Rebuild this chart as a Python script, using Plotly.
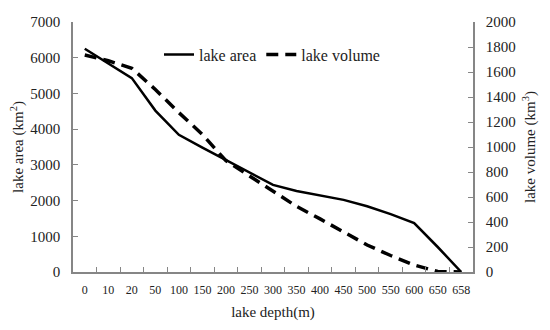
import plotly.graph_objects as go

depth_labels = ["0", "10", "20", "50", "100", "150", "200", "250", "300", "350",
                "400", "450", "500", "550", "600", "650", "658"]
lake_area = [6250, 5850, 5430, 4520, 3840, 3480, 3140, 2780, 2440, 2270,
             2150, 2020, 1840, 1620, 1370, 700, 0]
lake_volume = [1736, 1690, 1630, 1460, 1275, 1100, 890, 770, 650, 525,
               425, 320, 216, 132, 56, 4, 0]

FONT = "Liberation Serif"
AXC = "#868686"

fig = go.Figure()
fig.add_trace(go.Scatter(x=depth_labels, y=lake_area, name="lake area", mode="lines",
                         line=dict(color="black", width=2.5)))
fig.add_trace(go.Scatter(x=depth_labels, y=lake_volume, name="lake volume", mode="lines",
                         yaxis="y2", line=dict(color="black", width=3.5, dash="12px,7px")))

fig.update_layout(
    width=542, height=322,
    margin=dict(l=65, r=77, t=14, b=58, autoexpand=False),
    plot_bgcolor="white", paper_bgcolor="white",
    font=dict(family=FONT, size=15, color="#222"),
    showlegend=True,
    legend=dict(orientation="h", x=0.215, y=0.87, xanchor="left", yanchor="middle",
                bgcolor="rgba(0,0,0,0)", font=dict(size=16, family=FONT),
                itemwidth=30, tracegroupgap=0),
    xaxis=dict(type="category", tickson="boundaries", ticks="inside", ticklen=5,
               tickcolor=AXC, showline=True, linecolor=AXC, linewidth=1.5,
               showgrid=False, zeroline=False, tickfont=dict(size=12, family=FONT),
               tickangle=0, automargin=False, ticklabelstandoff=6,
               title=dict(text="lake depth(m)", font=dict(size=15, family=FONT), standoff=10),
               range=[-0.5, 16.5]),
    yaxis=dict(range=[0, 7000], dtick=1000, ticks="inside", ticklen=5, tickcolor=AXC,
               showline=True, linecolor=AXC, linewidth=1.5, showgrid=False, zeroline=False,
               tickfont=dict(size=15, family=FONT), automargin=False, ticklabelstandoff=8,
               title=dict(text="lake area (km<sup>2</sup>)", font=dict(size=15, family=FONT), standoff=14)),
    yaxis2=dict(range=[0, 2000], dtick=200, overlaying="y", side="right", ticks="inside",
                ticklen=5, tickcolor=AXC, showline=True, linecolor=AXC, linewidth=1.5,
                showgrid=False, zeroline=False, tickfont=dict(size=15, family=FONT),
                automargin=False, ticklabelstandoff=8,
                title=dict(text="lake volume (km<sup>3</sup>)", font=dict(size=15, family=FONT), standoff=10)),
)

fig.write_html("out.html")
